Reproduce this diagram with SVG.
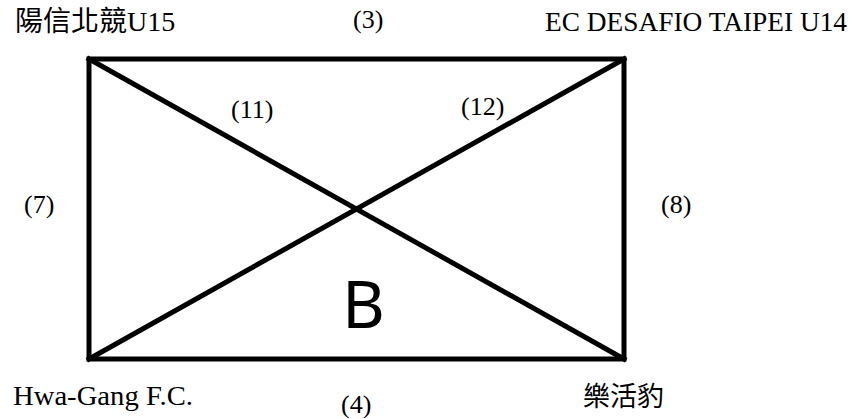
<svg xmlns="http://www.w3.org/2000/svg" width="857" height="419" viewBox="0 0 857 419">
<style>
.cjk{font-family:"Liberation Serif","Noto Sans CJK TC",serif;font-size:28px;fill:#000}
.lat{font-family:"Liberation Serif",serif;font-size:28px;fill:#000}
.num{font-family:"Liberation Serif",serif;font-size:26px;fill:#000}
.big{font-family:"Noto Sans",sans-serif;font-size:66px;fill:#000}
.ln{stroke:#000;stroke-width:5;fill:none;stroke-linecap:square}
</style>
<rect width="857" height="419" fill="#fff"/>
<g id="field">
<rect class="ln" x="89" y="59" width="535" height="300"/>
<text class="big" x="342" y="328">B</text>
</g>
<g id="connectors">
<line class="ln" x1="89" y1="59" x2="624" y2="359"/>
<line class="ln" x1="624" y1="59" x2="89" y2="359"/>
</g>
<g id="team-tl"><text class="cjk" x="15" y="31">陽信北競U15</text></g>
<g id="team-tr"><text class="lat" x="545" y="31" textLength="302" lengthAdjust="spacingAndGlyphs">EC DESAFIO TAIPEI U14</text></g>
<g id="team-bl"><text class="lat" x="13" y="405" textLength="180" lengthAdjust="spacingAndGlyphs">Hwa-Gang F.C.</text></g>
<g id="team-br"><text class="cjk" x="583" y="406" style="font-size:27px">樂活豹</text></g>
<g id="label-3"><text class="num" x="353" y="28">(3)</text></g>
<g id="label-4"><text class="num" x="341" y="413">(4)</text></g>
<g id="label-7"><text class="num" x="24" y="213">(7)</text></g>
<g id="label-8"><text class="num" x="661" y="213">(8)</text></g>
<g id="label-11"><text class="num" x="231" y="118">(11)</text></g>
<g id="label-12"><text class="num" x="461" y="115">(12)</text></g>
</svg>
